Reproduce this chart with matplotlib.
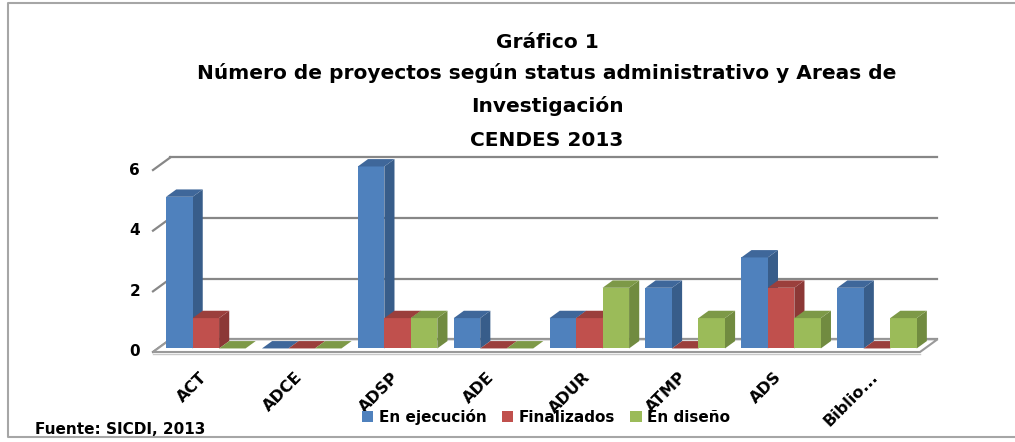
import matplotlib.pyplot as plt
from matplotlib.lines import Line2D
from matplotlib.patches import Polygon, Patch, Rectangle

# data
categories = ["ACT", "ADCE", "ADSP", "ADE", "ADUR", "ATMP", "ADS", "Biblio..."]
en_ejecucion = [5, 0, 6, 1, 1, 2, 3, 2]
finalizados = [1, 0, 1, 0, 1, 0, 2, 0]
en_diseno = [0, 0, 1, 0, 2, 1, 1, 1]
series_names = ["En ejecución", "Finalizados", "En diseño"]
y_ticks = [0, 2, 4, 6]

# face colours: front, side, top
FACES = [
    ("#4F81BD", "#385D8A", "#3F679A"),
    ("#C0504D", "#8C3836", "#9B3F3C"),
    ("#9BBB59", "#718B40", "#7D9947"),
]

W, H = 1015, 442
PX_CAT, PX_UNIT = 95.9, 30.33
DX, DY = 17.5 / PX_CAT, 12.7 / PX_UNIT      # wall depth in data units
BAR_W = 26.5 / PX_CAT
BAR_OFF = 0.28                               # bar front plane, fraction of depth
BAR_DEPTH = 0.58
GRID = "#878787"


def main() -> None:
    fig = plt.figure(figsize=(W / 100, H / 100), dpi=100)
    ymax = 6.9
    ax = fig.add_axes([153 / W, (H - 352) / H, 767 / W, ymax * PX_UNIT / H])
    ax.set_xlim(-0.5, 7.5)
    ax.set_ylim(0, ymax)
    ax.axis("off")

    n = len(categories)
    x_left, x_right = -0.5, n - 0.5

    # back wall and side wall gridlines
    for v in y_ticks:
        ax.plot([x_left + DX, x_right + DX], [v + DY, v + DY], color=GRID,
                lw=1.6, clip_on=False, zorder=1)
        ax.plot([x_left, x_left + DX], [v, v + DY], color=GRID, lw=1.6,
                clip_on=False, zorder=1)
        ax.text(x_left - 13 / PX_CAT, v, str(v), ha="right", va="center",
                fontsize=11, fontweight="bold")

    # floor
    floor = Polygon([(x_left, 0), (x_right, 0), (x_right + DX, DY),
                     (x_left + DX, DY)], closed=True, facecolor="white",
                    edgecolor="#9a9a9a", lw=1.5, clip_on=False, zorder=2)
    ax.add_patch(floor)
    ax.plot([x_left, x_right], [-0.05, -0.05], color="#c8c8c8", lw=1.0,
            clip_on=False, zorder=2)

    # 3D-looking bars
    fx, fy = BAR_OFF * DX, BAR_OFF * DY
    bx, by = BAR_DEPTH * DX, BAR_DEPTH * DY
    margin = (1 - 3 * BAR_W) / 2
    z = 3
    for i in range(n):
        for j, values in enumerate([en_ejecucion, finalizados, en_diseno]):
            v = values[i]
            front, side, top = FACES[j]
            x0 = i - 0.5 + margin + j * BAR_W + fx
            x1 = x0 + BAR_W
            if v > 0:
                ax.add_patch(Polygon([(x1, fy), (x1 + bx, fy + by),
                                      (x1 + bx, fy + by + v), (x1, fy + v)],
                                     facecolor=side, edgecolor="none",
                                     clip_on=False, zorder=z))
                ax.add_patch(Rectangle((x0, fy), BAR_W, v, facecolor=front,
                                       edgecolor="none", clip_on=False,
                                       zorder=z))
            ax.add_patch(Polygon([(x0, fy + v), (x1, fy + v),
                                  (x1 + bx, fy + v + by), (x0 + bx, fy + v + by)],
                                 facecolor=top, edgecolor="none",
                                 clip_on=False, zorder=z))
            z += 1

    # category labels
    for i, name in enumerate(categories):
        ax.text(i - 0.02, -0.58, name, rotation=45, rotation_mode="anchor",
                ha="right", va="top", fontsize=11.5, fontweight="bold")

    # titles
    title_lines = [
        (42, "Gráfico 1"),
        (73, "Número de proyectos según status administrativo y Areas de"),
        (106, "Investigación"),
        (140, "CENDES 2013"),
    ]
    for y, line in title_lines:
        fig.text(547 / W, 1 - y / H, line, ha="center", va="center",
                 fontsize=14.5, fontweight="bold")

    handles = [Patch(facecolor=f[0], edgecolor="none") for f in FACES]
    fig.legend(handles, series_names, loc="center",
               bbox_to_anchor=(546 / W, 1 - 417 / H), ncol=3, frameon=False,
               handlelength=0.75, handleheight=0.75, handletextpad=0.35,
               columnspacing=1.0, prop={"size": 11, "weight": "bold"})

    fig.text(35 / W, 1 - 430 / H, "Fuente: SICDI, 2013", ha="left",
             va="center", fontsize=11, fontweight="bold")

    # chart frame: left, top and bottom only, the right side runs off the picture
    left, top, bottom = 8 / W, 1 - 3 / H, 1 - 437 / H
    frame = Line2D([1.0, left, left, 1.0], [top, top, bottom, bottom],
                   transform=fig.transFigure, color="#a6a6a6", lw=1.5)
    fig.lines.append(frame)

    fig.savefig("out.png", dpi=100)
    plt.close(fig)


if __name__ == "__main__":
    main()
